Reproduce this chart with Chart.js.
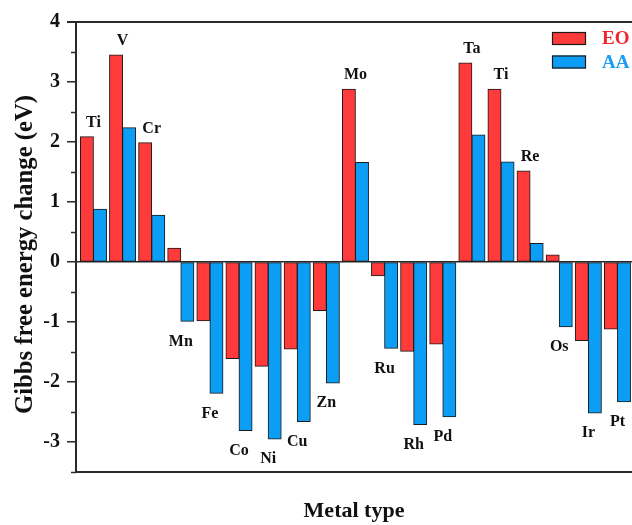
<!DOCTYPE html>
<html><head><meta charset="utf-8">
<script src="https://cdn.jsdelivr.net/npm/chart.js@4.4.1/dist/chart.umd.min.js"></script>
<style>html,body{margin:0;padding:0;background:#fff}#wrap{width:632px;height:525px;position:relative}</style>
</head><body><div id="wrap"><canvas id="c" width="632" height="525"></canvas></div>
<script>
const metals = ['Ti','V','Cr','Mn','Fe','Co','Ni','Cu','Zn','Mo','Ru','Rh','Pd','Ta','Ti','Re','Os','Ir','Pt'];
const eoValues = [2.09,3.45,1.99,0.23,-0.98,-1.61,-1.74,-1.45,-0.81,2.88,-0.23,-1.49,-1.37,3.32,2.88,1.52,0.12,-1.31,-1.12];
const aaValues = [0.88,2.24,0.78,-0.99,-2.19,-2.81,-2.95,-2.66,-2.02,1.66,-1.44,-2.71,-2.58,2.12,1.67,0.31,-1.08,-2.52,-2.33];
const seriesNames = ['EO','AA'];
const yTicks = [-3,-2,-1,0,1,2,3,4];
const minorTicks = [-3.5,-2.5,-1.5,-0.5,0.5,1.5,2.5,3.5];
const yTitle = 'Gibbs free energy change (eV)';
const xTitle = 'Metal type';

const FONT = "'Liberation Serif','Times New Roman',serif";
const RED = '#FF3A3A', BLUE = '#0C9EF5';
const RED_TXT = '#F0262E', BLUE_TXT = '#1A9DF2';
const AXIS = '#2a2a2a';

const extras = {
  id: 'extras',
  afterDraw(chart) {
    const {ctx, chartArea: a, scales: {x, y}} = chart;
    ctx.save();
    // top border
    ctx.strokeStyle = AXIS; ctx.lineWidth = 2;
    ctx.beginPath(); ctx.moveTo(a.left - 9, a.top); ctx.lineTo(a.right, a.top); ctx.stroke();
    // minor ticks
    ctx.lineWidth = 1.5;
    minorTicks.forEach(v => {
      const py = Math.round(y.getPixelForValue(v)) + 0.5;
      ctx.beginPath(); ctx.moveTo(a.left - 5, py); ctx.lineTo(a.left, py); ctx.stroke();
    });
    // metal labels
    ctx.font = 'bold 16px ' + FONT;
    ctx.fillStyle = '#111';
    ctx.textAlign = 'center'; ctx.textBaseline = 'middle';
    metals.forEach((m, i) => {
      const mx = Math.max(eoValues[i], aaValues[i]);
      const mn = Math.min(eoValues[i], aaValues[i]);
      const px = x.getPixelForValue(i);
      const py = mn < 0 ? y.getPixelForValue(mn) + 20 : y.getPixelForValue(mx) - 14;
      ctx.fillText(m, px, py);
    });
    // y title
    ctx.save();
    ctx.translate(26, (a.top + a.bottom) / 2 + 7.5);
    ctx.rotate(-Math.PI / 2);
    ctx.font = 'bold 24.7px ' + FONT;
    ctx.fillText(yTitle, 0, 0);
    ctx.restore();
    // legend
    const items = [[RED, RED_TXT], [BLUE, BLUE_TXT]];
    ctx.textAlign = 'left';
    ctx.font = 'bold 19px ' + FONT;
    seriesNames.forEach((n, k) => {
      const by = 32 + k * 23.5;
      ctx.fillStyle = items[k][0];
      ctx.fillRect(552, by, 34, 13);
      ctx.strokeStyle = '#1a1a1a'; ctx.lineWidth = 1.2;
      ctx.strokeRect(552.5, by + 0.5, 33, 12);
      ctx.fillStyle = items[k][1];
      ctx.fillText(n, 602, by + 7.5);
    });
    ctx.restore();
  }
};

new Chart(document.getElementById('c'), {
  type: 'bar',
  data: {
    datasets: [
      { label: seriesNames[0], data: metals.map((m, i) => ({x: i, y: eoValues[i]})),
        backgroundColor: RED, borderColor: '#1a1a1a', borderWidth: 1, borderSkipped: false,
        inflateAmount: 0.4, categoryPercentage: 0.9, barPercentage: 1.0 },
      { label: seriesNames[1], data: metals.map((m, i) => ({x: i, y: aaValues[i]})),
        backgroundColor: BLUE, borderColor: '#1a1a1a', borderWidth: 1, borderSkipped: false,
        inflateAmount: 0.4, categoryPercentage: 0.9, barPercentage: 1.0 }
    ]
  },
  options: {
    responsive: false, animation: false, devicePixelRatio: 1,
    layout: { padding: { top: 22, right: 0, bottom: 0, left: 0 } },
    plugins: { legend: { display: false }, tooltip: { enabled: false } },
    scales: {
      x: {
        type: 'linear', min: -0.6, max: 18.5, offset: false,
        afterBuildTicks: s => { s.ticks = metals.map((m, i) => ({ value: i })); },
        grid: { display: false },
        ticks: { display: false },
        border: { display: true, color: AXIS, width: 2 },
        title: { display: true, text: xTitle, color: '#111',
          font: { family: FONT, size: 22, weight: 'bold' }, padding: { top: 0, bottom: 0 } },
        afterFit: s => { s.height = 53; }
      },
      y: {
        min: -3.5, max: 4,
        afterBuildTicks: s => { s.ticks = yTicks.map(v => ({ value: v })); },
        ticks: { color: '#111', padding: 7, font: { family: FONT, size: 20, weight: 'bold' },
          callback: v => String(v) },
        grid: {
          drawOnChartArea: true, tickLength: 9,
          color: c => (c.tick && c.tick.value === 0) ? AXIS : 'transparent',
          lineWidth: 1.5, tickColor: AXIS, tickWidth: 1.5
        },
        border: { display: true, color: AXIS, width: 2 },
        title: { display: false },
        afterFit: s => { s.width = 76; }
      }
    }
  },
  plugins: [extras]
});
</script></body></html>
